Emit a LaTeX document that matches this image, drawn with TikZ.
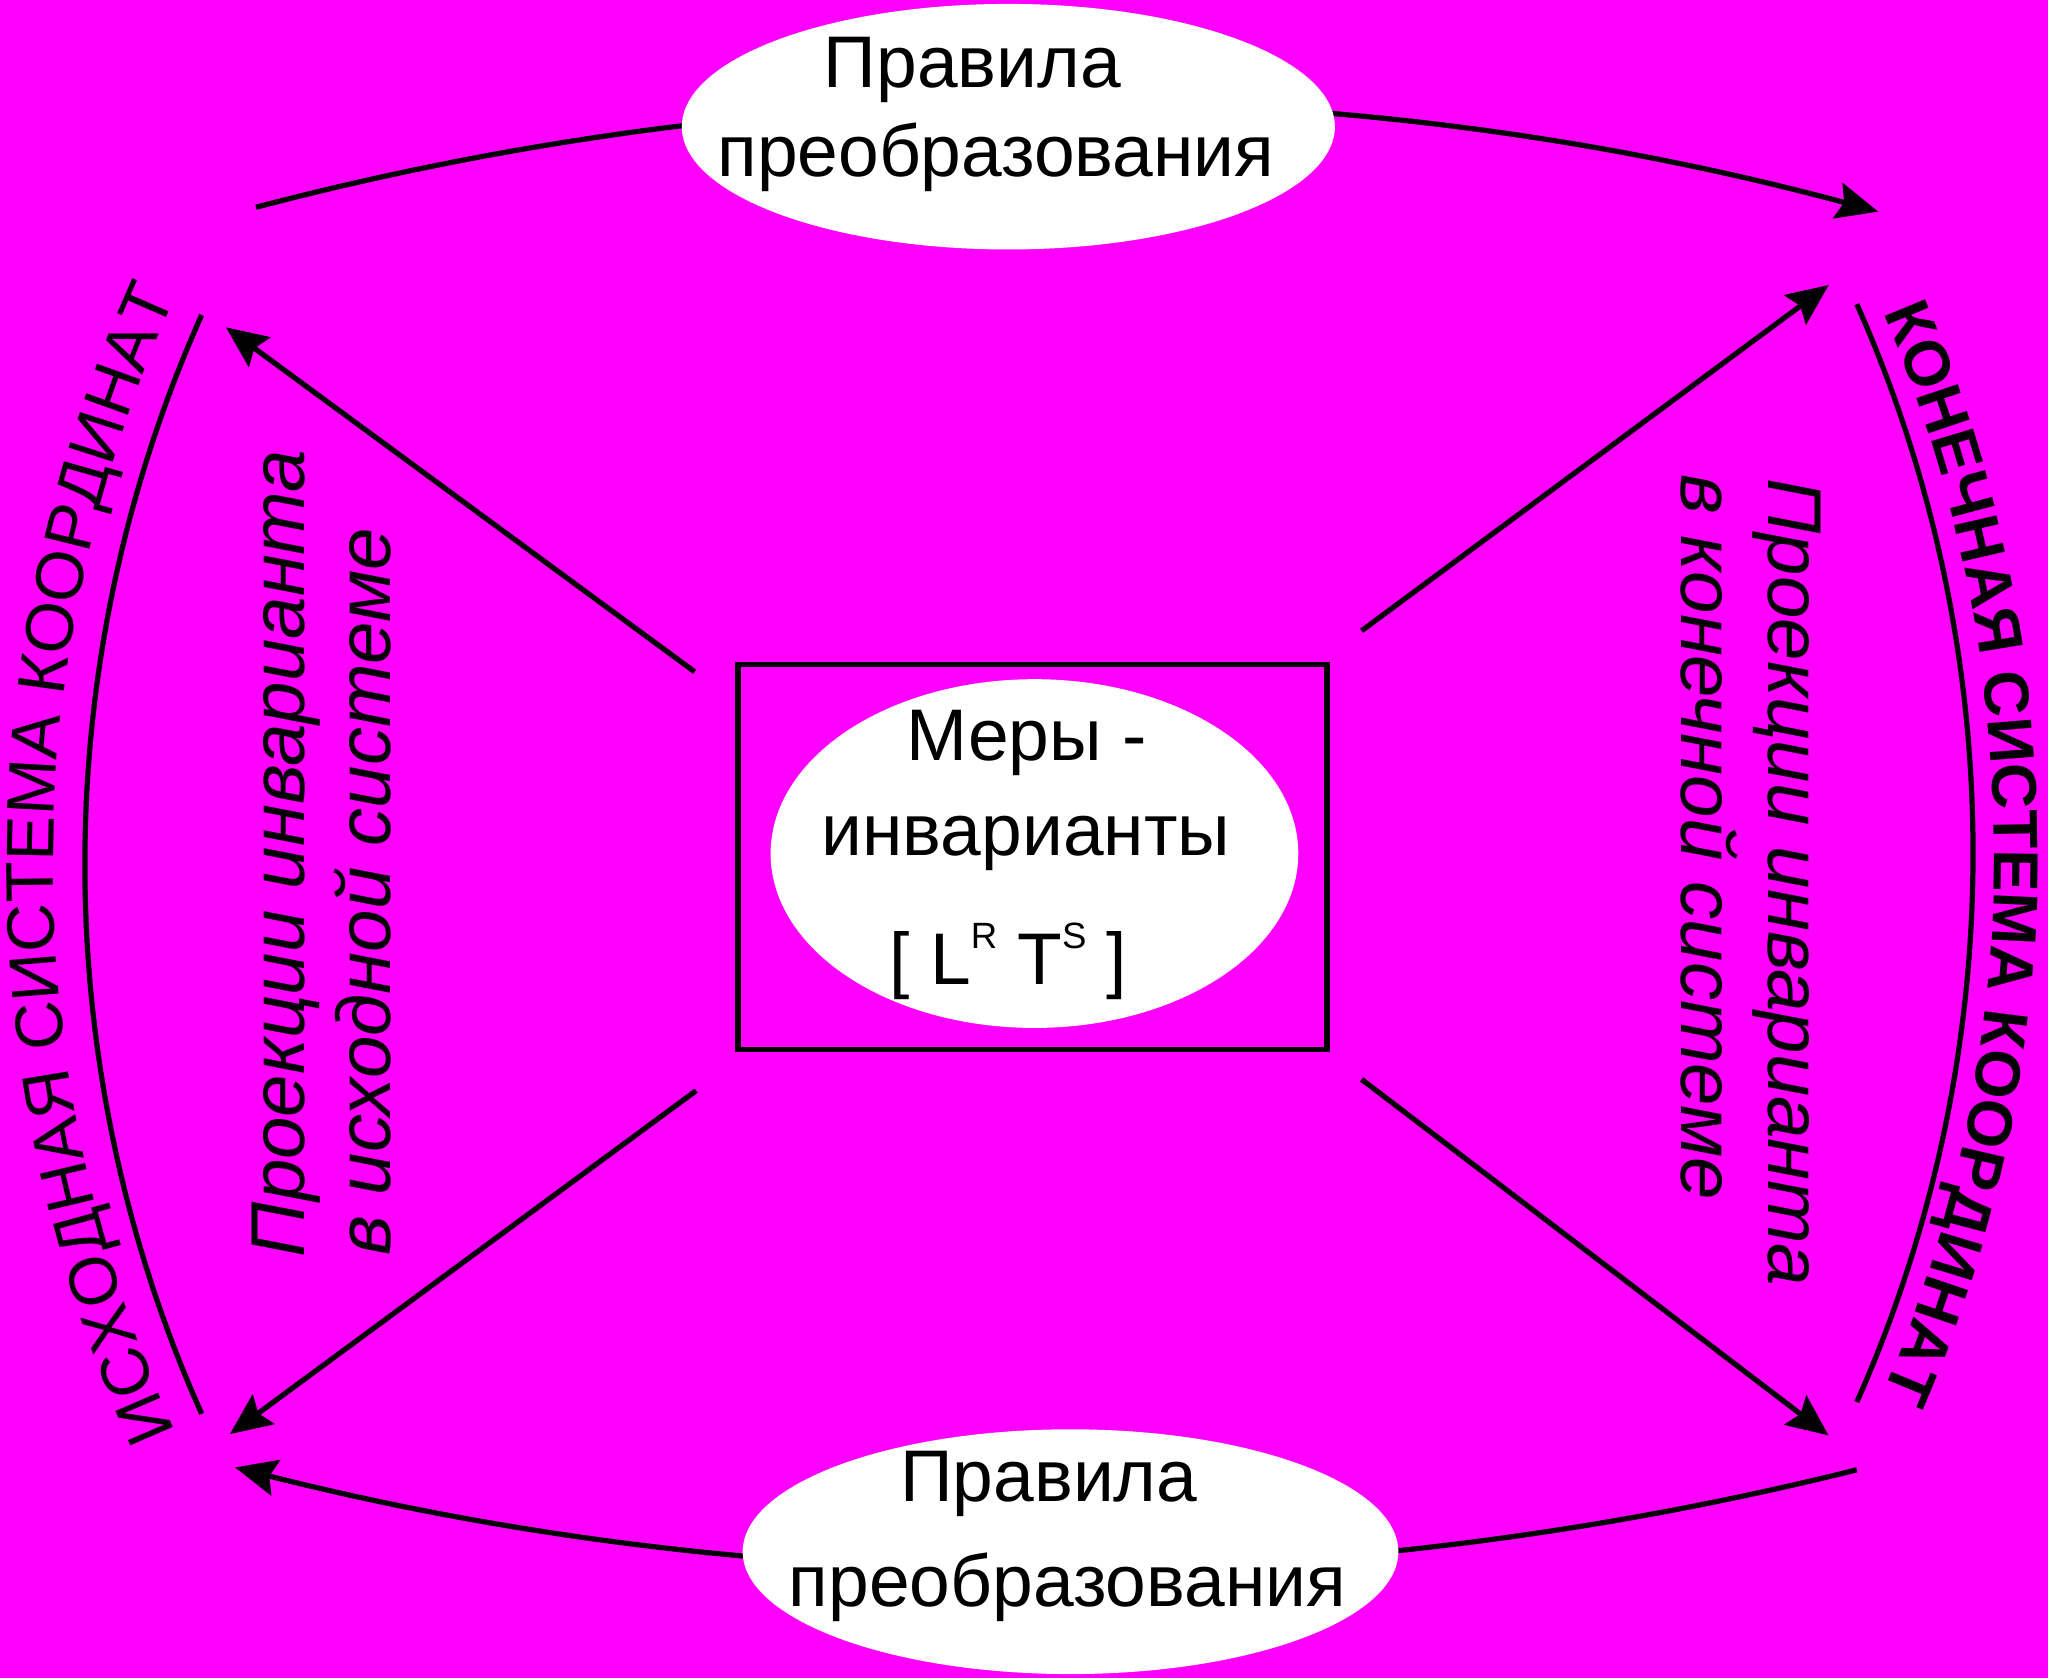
\documentclass[tikz,border=0pt]{standalone}
\usepackage{fontspec}
\setmainfont{Liberation Sans}
\usetikzlibrary{arrows.meta,decorations.text,calc,shapes.geometric}
\definecolor{bg}{RGB}{255,0,255}
\begin{document}
\begin{tikzpicture}[x=0.5pt,y=-0.5pt,
  line/.style={line width=2pt},
  arr/.style={line width=2pt,-{Stealth[length=16pt,width=14pt,inset=2.5pt]}},
  oval/.style={ellipse, fill=white, inner sep=0pt},
  lbl/.style={inner sep=0pt, anchor=base, font=\fontsize{28}{30}\selectfont},
  ital/.style={inner sep=0pt, anchor=base west, font=\fontsize{29.2}{30}\selectfont\itshape},
]
\fill[bg] (0,0) rectangle (1568,1285);
\useasboundingbox (0,0) rectangle (1568,1285);

% outer arcs
\coordinate (tA) at (196,158.7);
\coordinate (tB) at (1438,162);
\coordinate (bA) at (1421.6,1125.3);
\coordinate (bB) at (180,1123.5);
\coordinate (lA) at (154.4,241.2);
\coordinate (lB) at (154.4,1082.4);
\coordinate (rA) at (1421.6,232.9);
\coordinate (rB) at (1421.6,1073.4);
\draw[arr] (tA) to[bend left=14.9, looseness=0.866] (tB);
\draw[arr] (bA) to[bend left=14.1, looseness=0.864] (bB);
\draw[line] (lA) to[bend right=24.1, looseness=0.89] (lB);
\draw[line] (rA) to[bend left=24.0, looseness=0.89] (rB);

% ellipses and box
\node[oval, minimum width=250pt, minimum height=94pt] (top) at (772,97) {};
\node[oval, minimum width=251pt, minimum height=93.7pt] (bot) at (819.6,1188) {};
\node[draw, line width=2.1pt, minimum width=225.4pt, minimum height=147.45pt, inner sep=0pt] (box) at (790.4,656.2) {};
\node[oval, minimum width=202pt, minimum height=133.5pt] (mid) at (792,653.5) {};

% labels
\node[lbl] (t1) at (744.5,67) {Правила};
\node[lbl] (t2) at (762.5,135.3) {преобразования};
\node[lbl] (b1) at (803,1149.8) {Правила};
\node[lbl] (b2) at (817.3,1230.2) {преобразования};
\node[lbl] (m1) at (786,582) {Меры -};
\node[lbl] (m2) at (785.5,655) {инварианты};
\node[lbl] (m3) at (772,754) {[ L\raisebox{14pt}{\fontsize{14}{14}\selectfont R} T\raisebox{14pt}{\fontsize{14}{14}\selectfont S} ]};

% rotated italic texts
\node[ital, rotate=90] (pl1) at (233.5,963) {Проекции инварианта};
\node[ital, rotate=90] (pl2) at (298.6,962) {в исходной системе};
\node[ital, rotate=-90] (pr1) at (1354,366) {Проекции инварианта};
\node[ital, rotate=-90] (pr2) at (1287.6,363) {в конечной системе};

% diagonal arrows
\coordinate (ulS) at (531.8,514.3); \coordinate (ulT) at (173,250.6);
\coordinate (urS) at (1042.5,482.9); \coordinate (urT) at (1400.1,218.2);
\coordinate (llS) at (533,835); \coordinate (llT) at (176,1098);
\coordinate (lrS) at (1042.5,826.4); \coordinate (lrT) at (1400,1099);
\draw[arr] (ulS) -- (ulT);
\draw[arr] (urS) -- (urT);
\draw[arr] (llS) -- (llT);
\draw[arr] (lrS) -- (lrT);

% curved texts
\coordinate (lc) at (1094.7,661.6);
\path[decorate, decoration={text along path, text align=center,
  text={|\fontsize{25.8}{26}\selectfont|ИСХОДНАЯ СИСТЕМА КООРДИНАТ}}]
  ($(lc)+(150:1054)$) arc[start angle=150, end angle=210, radius=1054];
\coordinate (rc) at (477.4,653.2);
\path[decorate, decoration={text along path, text align=center,
  text={|\fontsize{24.3}{26}\selectfont\bfseries|КОНЕЧНАЯ СИСТЕМА КООРДИНАТ}}]
  ($(rc)+(-30:1049.5)$) arc[start angle=-30, end angle=30, radius=1049.5];
\end{tikzpicture}
\end{document}
